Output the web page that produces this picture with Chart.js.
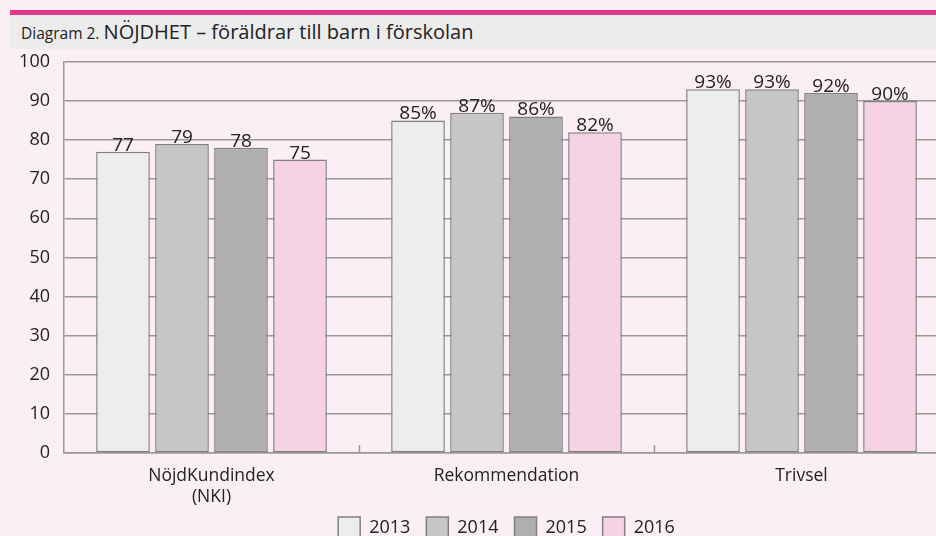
<!DOCTYPE html>
<html>
<head>
<meta charset="utf-8">
<script src="https://cdn.jsdelivr.net/npm/chart.js@4/dist/chart.umd.min.js"></script>
<style>
  html, body { margin:0; padding:0; background:#fbeff5; overflow:hidden; width:936px; height:536px; }
  #topline { position:absolute; left:10px; top:10px; width:926px; height:5px; background:#e4398b; }
  #titleband { position:absolute; left:10px; top:15px; width:926px; height:34px; background:#ececec;
    font-family:"Open Sans", sans-serif; color:#222; line-height:34px; white-space:nowrap; }
  #titleband .small { font-size:15.5px; margin-left:11px; }
  #titleband .big { font-size:20px; }
  #wrap { position:absolute; left:0; top:37px; width:950px; height:499px; }
</style>
</head>
<body>
<div id="topline"></div>
<div id="titleband"><span class="small">Diagram 2.</span> <span class="big">NÖJDHET – föräldrar till barn i förskolan</span></div>
<div id="wrap"><canvas id="c"></canvas></div>
<script>
const categories = [["NöjdKundindex", "(NKI)"], "Rekommendation", "Trivsel"];
const labelSuffix = ["", "%", "%"];
const years = ["2013", "2014", "2015", "2016"];
const values2013 = [77, 85, 93];
const values2014 = [79, 87, 93];
const values2015 = [78, 86, 92];
const values2016 = [75, 82, 90];
const yTicks = [0, 10, 20, 30, 40, 50, 60, 70, 80, 90, 100];
const colors = ["#ededed", "#c6c6c6", "#afafaf", "#f7d2e4"];

const seriesValues = [values2013, values2014, values2015, values2016];
const FONT = '"Open Sans", sans-serif';
const TEXT = "#222";

const valueLabels = {
  id: "valueLabels",
  afterDatasetsDraw(chart) {
    const ctx = chart.ctx;
    ctx.save();
    ctx.font = "19px " + FONT;
    ctx.fillStyle = TEXT;
    ctx.textAlign = "center";
    ctx.textBaseline = "bottom";
    chart.data.datasets.forEach((ds, di) => {
      const meta = chart.getDatasetMeta(di);
      meta.data.forEach((bar, i) => {
        ctx.fillText(ds.data[i] + labelSuffix[i], bar.x, bar.y + 3);
      });
    });
    ctx.restore();
  }
};

const boundaryTicks = {
  id: "boundaryTicks",
  afterDatasetsDraw(chart) {
    const x = chart.scales.x, y = chart.scales.y;
    const ctx = chart.ctx;
    const n = chart.data.labels.length;
    const step = (x.getPixelForTick(1) - x.getPixelForTick(0));
    ctx.save();
    ctx.strokeStyle = "#999";
    ctx.lineWidth = 1.5;
    for (let i = 0; i < n - 1; i++) {
      const px = Math.round(x.getPixelForTick(i) + step / 2) + 0.5;
      ctx.beginPath();
      ctx.moveTo(px, y.bottom);
      ctx.lineTo(px, y.bottom - 8);
      ctx.stroke();
    }
    ctx.restore();
  }
};

new Chart(document.getElementById("c"), {
  type: "bar",
  data: {
    labels: categories,
    datasets: years.map((yr, k) => ({
      label: yr,
      data: seriesValues[k],
      backgroundColor: colors[k],
      borderColor: "#808080",
      borderWidth: 1.5,
      borderSkipped: false,
      categoryPercentage: 0.8,
      barPercentage: 0.91
    }))
  },
  options: {
    responsive: true,
    maintainAspectRatio: false,
    animation: false,
    layout: { padding: { top: 0, left: 0, right: 1, bottom: 0 } },
    plugins: {
      tooltip: { enabled: false },
      legend: {
        position: "bottom",
        fullSize: false,
        maxHeight: 35,
        labels: {
          font: { family: FONT, size: 18 },
          color: TEXT,
          boxWidth: 22,
          boxHeight: 22,
          padding: 16,
          useBorderRadius: false
        }
      }
    },
    scales: {
      x: {
        offset: true,
        afterFit(scale) { scale.height = 48; scale._computeLabelArea = () => undefined; },
        grid: { display: false, drawTicks: false },
        border: { display: true, color: "#999", width: 1.5 },
        ticks: { font: { family: FONT, size: 17.5, lineHeight: 1.2 }, color: TEXT, padding: 13, maxRotation: 0 }
      },
      y: {
        min: 0, max: 100,
        afterBuildTicks(scale) { scale.ticks = yTicks.map(v => ({ value: v })); },
        afterFit(scale) { scale.width = 64; },
        grid: { color: "#999", lineWidth: 1.5, drawTicks: false },
        border: { display: true, color: "#999", width: 1.5 },
        ticks: { font: { family: FONT, size: 18 }, color: TEXT, padding: 14 }
      }
    }
  },
  plugins: [valueLabels, boundaryTicks]
});
</script>
</body>
</html>
